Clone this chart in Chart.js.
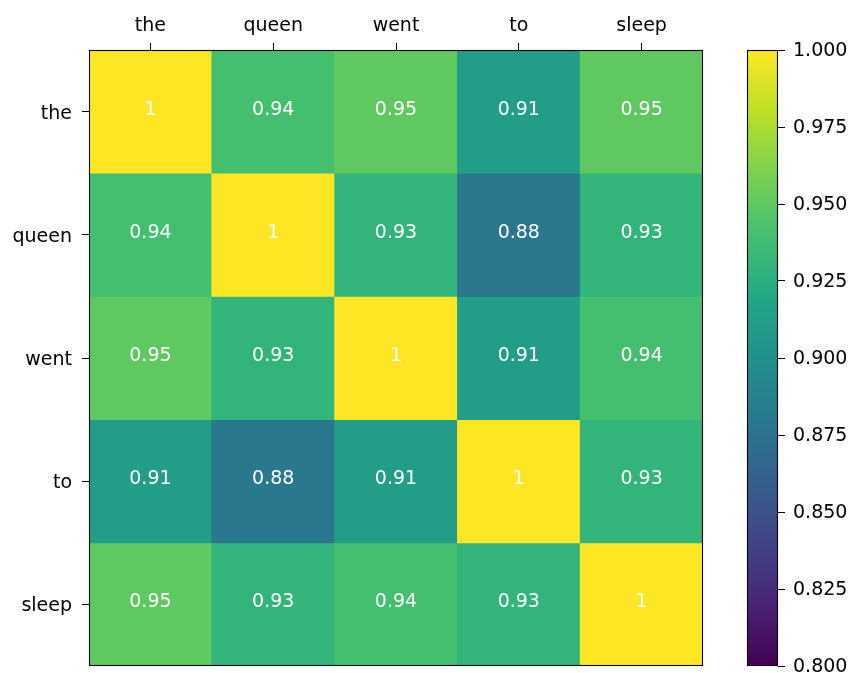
<!DOCTYPE html>
<html>
<head>
<meta charset="utf-8">
<script src="https://cdn.jsdelivr.net/npm/chart.js@4.4.0/dist/chart.umd.min.js"></script>
<style>
  html, body { margin: 0; padding: 0; background: #fff; }
  #wrap { position: relative; width: 852px; height: 673px; }
  #wrap canvas { position: absolute; left: 0; top: 0; }
</style>
</head>
<body>
<div id="wrap">
  <canvas id="heat" width="852" height="673"></canvas>
  <canvas id="cbar" width="852" height="673"></canvas>
</div>
<script>
// ---- data ----
const words = ['the', 'queen', 'went', 'to', 'sleep'];
const rowThe   = [1, 0.94, 0.95, 0.91, 0.95];
const rowQueen = [0.94, 1, 0.93, 0.88, 0.93];
const rowWent  = [0.95, 0.93, 1, 0.91, 0.94];
const rowTo    = [0.91, 0.88, 0.91, 1, 0.93];
const rowSleep = [0.95, 0.93, 0.94, 0.93, 1];
const matrix = [rowThe, rowQueen, rowWent, rowTo, rowSleep];
const vmin = 0.8, vmax = 1.0;
const cbarTicks = [0.800, 0.825, 0.850, 0.875, 0.900, 0.925, 0.950, 0.975, 1.000];

// ---- viridis colormap ----
const viridisStops = ['#440154','#482475','#414487','#355f8d','#2a788e','#21918c','#22a884','#44bf70','#7ad151','#bddf26','#fde725'];
function hexToRgb(h) { return [parseInt(h.substr(1,2),16), parseInt(h.substr(3,2),16), parseInt(h.substr(5,2),16)]; }
const viridisRgb = viridisStops.map(hexToRgb);
function viridis(t) {
  t = Math.max(0, Math.min(1, t));
  const p = t * (viridisRgb.length - 1);
  const i = Math.min(Math.floor(p), viridisRgb.length - 2);
  const f = p - i;
  const a = viridisRgb[i], b = viridisRgb[i + 1];
  return 'rgb(' + [0,1,2].map(k => Math.round(a[k] + (b[k] - a[k]) * f)).join(',') + ')';
}
function colorFor(v) { return viridis((v - vmin) / (vmax - vmin)); }

const FONT = { family: '"DejaVu Sans", sans-serif', size: 19 };

const frame = {
  id: 'frame',
  afterDatasetsDraw(chart) {
    const a = chart.chartArea, c = chart.ctx;
    c.save();
    c.strokeStyle = '#000';
    c.lineWidth = 1.1;
    c.strokeRect(Math.round(a.left) + 0.5, Math.round(a.top) + 0.5, Math.round(a.right - a.left) - 1, Math.round(a.bottom - a.top) - 1);
    c.restore();
  }
};

const cellText = {
  id: 'cellText',
  afterDatasetsDraw(chart) {
    const c = chart.ctx;
    c.save();
    c.fillStyle = '#fff';
    c.font = FONT.size + 'px ' + FONT.family;
    c.textAlign = 'center';
    c.textBaseline = 'middle';
    chart.data.datasets.forEach((ds, r) => {
      const meta = chart.getDatasetMeta(r);
      meta.data.forEach((el, ci) => {
        const v = matrix[r][ci];
        const txt = v === 1 ? '1' : String(v);
        c.fillText(txt, el.x, (el.y + el.base) / 2 - 2);
      });
    });
    c.restore();
  }
};

function noPad(s) { s.paddingTop = 0; s.paddingBottom = 0; s.paddingLeft = 0; s.paddingRight = 0; }

// ---- heatmap ----
new Chart(document.getElementById('heat'), {
  type: 'bar',
  data: {
    labels: words,
    datasets: matrix.map((row, r) => ({
      label: words[r],
      data: row.map(() => [r - 0.5, r + 0.5]),
      backgroundColor: row.map(colorFor),
      borderWidth: 0,
      borderSkipped: false,
      barPercentage: 1.0,
      categoryPercentage: 1.0,
      grouped: false
    }))
  },
  options: {
    responsive: false,
    animation: false,
    events: [],
    layout: { padding: { left: 0, top: 0, right: 852 - 703, bottom: 673 - 666 } },
    plugins: { legend: { display: false }, tooltip: { enabled: false } },
    scales: {
      x: {
        type: 'category',
        position: 'top',
        offset: true,
        afterFit(s) { s.height = 50; noPad(s); },
        grid: { offset: false, drawOnChartArea: false, drawTicks: true, tickLength: 7, tickColor: '#000', tickWidth: 1 },
        border: { display: false },
        ticks: { color: '#000', font: FONT, padding: 6, maxRotation: 0 }
      },
      y: {
        type: 'linear',
        min: -0.5,
        max: 4.5,
        reverse: true,
        afterFit(s) { s.width = 89; noPad(s); },
        afterBuildTicks(s) { s.ticks = words.map((w, i) => ({ value: i })); },
        grid: { drawOnChartArea: false, drawTicks: true, tickLength: 7, tickColor: '#000', tickWidth: 1 },
        border: { display: false },
        ticks: { color: '#000', font: FONT, padding: 10, labelOffset: 2, callback: (v) => words[v] }
      }
    }
  },
  plugins: [cellText, frame]
});

// ---- colorbar ----
new Chart(document.getElementById('cbar'), {
  type: 'bar',
  data: {
    labels: ['cb'],
    datasets: [{
      data: [[vmin, vmax]],
      backgroundColor(ctx) {
        const a = ctx.chart.chartArea;
        if (!a) return '#888';
        const g = ctx.chart.ctx.createLinearGradient(0, a.bottom, 0, a.top);
        viridisStops.forEach((col, i) => g.addColorStop(i / (viridisStops.length - 1), col));
        return g;
      },
      borderWidth: 0,
      borderSkipped: false,
      barPercentage: 1.0,
      categoryPercentage: 1.0
    }]
  },
  options: {
    responsive: false,
    animation: false,
    events: [],
    layout: { padding: { left: 747, top: 50, right: 0, bottom: 673 - 666 } },
    plugins: { legend: { display: false }, tooltip: { enabled: false } },
    scales: {
      x: { display: false },
      y: {
        type: 'linear',
        position: 'right',
        min: vmin,
        max: vmax,
        afterFit(s) { s.width = 852 - 778; noPad(s); },
        afterBuildTicks(s) { s.ticks = cbarTicks.map(v => ({ value: v })); },
        grid: { drawOnChartArea: false, drawTicks: true, tickLength: 7, tickColor: '#000', tickWidth: 1 },
        border: { display: false },
        ticks: { color: '#000', font: FONT, padding: 8, labelOffset: 1.5, callback: (v) => Number(v).toFixed(3) }
      }
    }
  },
  plugins: [frame]
});
</script>
</body>
</html>
